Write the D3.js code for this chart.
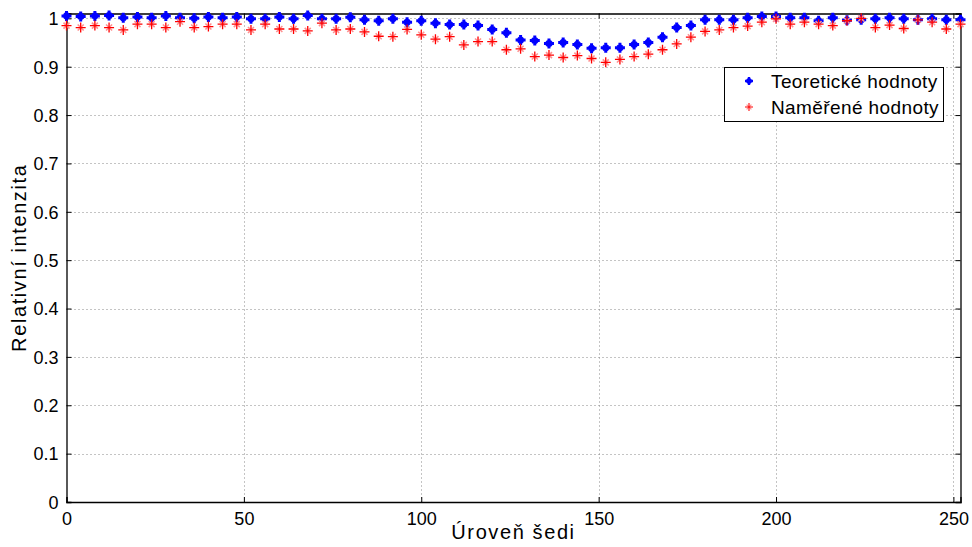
<!DOCTYPE html>
<html><head><meta charset="utf-8">
<script src="https://cdn.jsdelivr.net/npm/d3@7/dist/d3.min.js"></script>
<style>body{margin:0;background:#fff;} text{font-family:"Liberation Sans",Arial,sans-serif;}</style>
</head><body><svg id="c" width="972" height="547"></svg>
<script>
const xValues = d3.range(0, 253, 4);
const theoretical = [1.005,1.004,1.005,1.006,1.001,1.003,1.001,1.005,1.001,1.000,1.003,1.001,1.003,0.999,0.999,1.003,
 0.999,1.006,0.999,0.999,1.002,0.997,0.995,0.999,0.992,0.995,0.990,0.987,0.987,0.985,0.977,0.970,
 0.955,0.954,0.948,0.950,0.946,0.938,0.939,0.939,0.946,0.950,0.961,0.981,0.985,0.997,0.997,0.997,
 1.001,1.004,1.004,1.001,1.001,0.995,1.001,0.996,0.997,0.999,1.001,0.999,0.997,0.999,0.997,0.997];
const measured = [0.985,0.981,0.985,0.981,0.976,0.988,0.988,0.981,0.993,0.981,0.983,0.988,0.988,0.976,0.988,0.978,
 0.978,0.974,0.990,0.976,0.978,0.972,0.963,0.962,0.977,0.966,0.957,0.962,0.945,0.952,0.952,0.935,
 0.937,0.921,0.924,0.919,0.923,0.917,0.909,0.915,0.921,0.926,0.935,0.947,0.961,0.973,0.976,0.981,
 0.984,0.992,0.999,0.988,0.992,0.988,0.985,0.995,1.000,0.981,0.986,0.979,0.997,0.992,0.978,0.988];
const xTicks = [0,50,100,150,200,250];
const yTicks = [0,0.1,0.2,0.3,0.4,0.5,0.6,0.7,0.8,0.9,1];
const seriesNames = ["Teoretické hodnoty","Naměřené hodnoty"];
const xLabel = "Úroveň šedi", yLabel = "Relativní intenzita";

const L=66.5, R=960.5, T=13.5, B=502;
const svg = d3.select("#c");
const x = d3.scaleLinear().domain([0,252]).range([L,R]);
const y = d3.scaleLinear().domain([0,1.01]).range([B,T]);

// grid
const g = svg.append("g");
g.selectAll(".gx").data(xTicks.filter(d=>d>0)).join("line")
 .attr("x1",d=>Math.round(x(d))+0.5).attr("x2",d=>Math.round(x(d))+0.5).attr("y1",T).attr("y2",B)
 .attr("stroke","#888").attr("stroke-width",1).attr("stroke-dasharray","1,3");
g.selectAll(".gy").data(yTicks.filter(d=>d>0)).join("line")
 .attr("y1",d=>Math.round(y(d))+0.5).attr("y2",d=>Math.round(y(d))+0.5).attr("x1",L).attr("x2",R)
 .attr("stroke","#888").attr("stroke-width",1).attr("stroke-dasharray","1,3");

// axes
const xa = svg.append("g").attr("transform",`translate(0,${B})`)
 .call(d3.axisBottom(x).tickValues(xTicks).tickSize(-5).tickPadding(10).tickFormat(d3.format("d")));
const ya = svg.append("g").attr("transform",`translate(${L},0)`)
 .call(d3.axisLeft(y).tickValues(yTicks).tickSize(-5).tickPadding(8).tickFormat(d=>d===0?"0":d===1?"1":d3.format(".1f")(d)));
const xt = svg.append("g").attr("transform",`translate(0,${T})`)
 .call(d3.axisTop(x).tickValues(xTicks).tickSize(-5).tickFormat(""));
const yr = svg.append("g").attr("transform",`translate(${R},0)`)
 .call(d3.axisRight(y).tickValues(yTicks).tickSize(-5).tickFormat(""));
[xa,ya,xt,yr].forEach(a=>{
 a.select(".domain").attr("stroke","#000").attr("stroke-width",1.3);
 a.selectAll(".tick line").attr("stroke","#000");
 a.selectAll(".tick text").attr("fill","#000").style("font-size","18px").style("font-family","Liberation Sans, Arial, sans-serif");
});
ya.selectAll(".tick text").attr("dy","0.35em");

// markers
function plus(cx,cy,r){ return `M${cx-r},${cy}L${cx+r},${cy}M${cx},${cy-r}L${cx},${cy+r}`; }
function cross(cx,cy,r){ return `M${cx-r},${cy-r}L${cx+r},${cy+r}M${cx-r},${cy+r}L${cx+r},${cy-r}`; }
function drawBlue(sel,cx,cy,s){
 sel.append("path").attr("d",cross(cx,cy,2.6*s)).attr("stroke","#0000ff").attr("stroke-width",2.4*s);
 sel.append("path").attr("d",plus(cx,cy,5*s)).attr("stroke","#0000ff").attr("stroke-width",3*s);
}
function drawRed(sel,cx,cy,s){
 sel.append("path").attr("d",cross(cx,cy,3*s)).attr("stroke","#ff9090").attr("stroke-width",1.6*s);
 sel.append("path").attr("d",plus(cx,cy,5*s)).attr("stroke","#ff0000").attr("stroke-width",1.3*s);
}
const pts = svg.append("g");
const gb = pts.append("g"), gr = pts.append("g");
xValues.forEach((d,i)=>drawBlue(gb,x(d),y(theoretical[i]),1));
xValues.forEach((d,i)=>drawRed(gr,x(d),y(measured[i]),1));

// labels
svg.append("text").attr("x",(L+R)/2).attr("y",539).attr("text-anchor","middle")
 .style("font-size","20px").style("letter-spacing","1.6px").text(xLabel);
svg.append("text").attr("transform",`translate(26,${(T+B)/2}) rotate(-90)`).attr("text-anchor","middle")
 .style("font-size","20px").style("letter-spacing","1.6px").text(yLabel);

// legend
const lg = svg.append("g");
lg.append("rect").attr("x",724.5).attr("y",67.5).attr("width",219).attr("height",54)
 .attr("fill","#fff").attr("stroke","#000").attr("stroke-width",1);
drawBlue(lg,749,81,0.8);
drawRed(lg,749,107,0.8);
lg.append("text").attr("x",771).attr("y",88).style("font-size","19px").style("letter-spacing","0.4px").text(seriesNames[0]);
lg.append("text").attr("x",771).attr("y",114).style("font-size","19px").style("letter-spacing","0.4px").text(seriesNames[1]);
</script></body></html>
